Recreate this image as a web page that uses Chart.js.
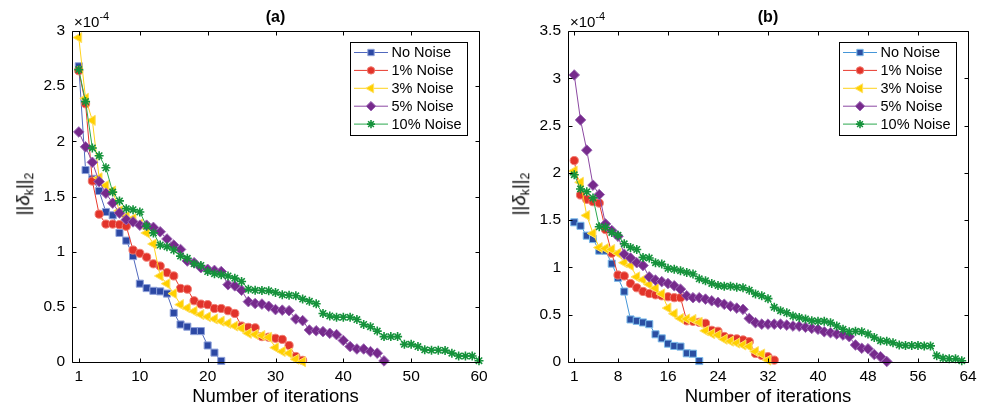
<!DOCTYPE html>
<html><head><meta charset="utf-8">
<script src="https://cdn.jsdelivr.net/npm/chart.js@4.4.0/dist/chart.umd.min.js"></script>
<style>
html,body{margin:0;padding:0;background:#fff;}
#wrap{position:relative;width:989px;height:413px;overflow:hidden;font-family:"Liberation Sans",Arial,sans-serif;color:#000;}
canvas{position:absolute;top:0;}
#ca{left:0;} #cb{left:494px;}
.ylab{position:absolute;font-size:18.5px;transform:translate(-50%,-50%) rotate(-90deg);white-space:nowrap;line-height:1;}
.ylab sub{font-size:12.5px;vertical-align:-4px;}
</style></head>
<body>
<div id="wrap">
<canvas id="ca" width="494" height="413"></canvas>
<canvas id="cb" width="495" height="413"></canvas>
<div class="ylab" style="left:25px;top:194px;">||<i>δ</i><sub>k</sub>||<sub>2</sub></div>
<div class="ylab" style="left:521px;top:194px;">||<i>δ</i><sub>k</sub>||<sub>2</sub></div>
</div>
<script>
// ---------- data (values in units of 1e-4) ----------
const seriesNames = ['No Noise', '1% Noise', '3% Noise', '5% Noise', '10% Noise'];

const aNoNoise = [2.68,1.74,1.66,1.55,1.36,1.33,1.17,1.10,0.96,0.71,0.67,0.645,0.64,0.62,0.445,0.34,0.32,0.28,0.28,0.15,0.085,0.01];
const aNoise1  = [2.64,2.34,1.64,1.34,1.25,1.25,1.245,1.23,1.015,0.985,0.95,0.89,0.87,0.81,0.78,0.667,0.66,0.555,0.525,0.52,0.485,0.485,0.465,0.44,0.326,0.314,0.31,0.23,0.225,0.215,0.205,0.15,0.05,0.015];
const aNoise3  = [2.94,2.39,2.19,1.67,1.60,1.55,1.37,1.32,1.30,1.25,1.17,1.07,0.78,0.71,0.62,0.52,0.49,0.46,0.43,0.41,0.39,0.37,0.35,0.326,0.305,0.26,0.25,0.24,0.224,0.13,0.095,0.08,0.025,0.003];
const aNoise5  = [2.085,1.95,1.81,1.635,1.53,1.44,1.35,1.29,1.27,1.24,1.24,1.22,1.18,1.115,1.06,1.02,0.915,0.90,0.855,0.84,0.83,0.82,0.70,0.69,0.65,0.547,0.53,0.525,0.505,0.475,0.47,0.465,0.39,0.375,0.29,0.283,0.275,0.26,0.248,0.195,0.14,0.118,0.118,0.094,0.08,0.01];
const aNoise10 = [2.65,2.36,1.94,1.87,1.76,1.54,1.46,1.39,1.38,1.36,1.23,1.17,1.06,1.045,1.015,0.96,0.94,0.89,0.875,0.82,0.80,0.79,0.78,0.76,0.73,0.66,0.65,0.648,0.645,0.63,0.61,0.605,0.60,0.57,0.55,0.528,0.44,0.417,0.405,0.405,0.405,0.385,0.34,0.32,0.28,0.23,0.23,0.23,0.16,0.16,0.14,0.11,0.107,0.107,0.105,0.08,0.054,0.054,0.054,0.012];

const bNoNoise = [1.477,1.44,1.336,1.30,1.177,1.177,1.04,0.89,0.745,0.45,0.435,0.418,0.40,0.293,0.25,0.194,0.17,0.163,0.092,0.088,0.01];
const bNoise1  = [2.13,1.766,1.72,1.695,1.68,1.40,1.15,0.92,0.91,0.83,0.785,0.746,0.724,0.71,0.70,0.69,0.68,0.68,0.435,0.43,0.42,0.41,0.335,0.325,0.27,0.25,0.245,0.233,0.215,0.09,0.07,0.056,0.02];
const bNoise3  = [2.02,1.90,1.55,1.36,1.21,1.20,1.19,1.15,1.05,1.02,0.90,0.87,0.82,0.78,0.72,0.57,0.51,0.46,0.455,0.45,0.42,0.33,0.30,0.285,0.24,0.22,0.20,0.18,0.165,0.11,0.085,0.02];
const bNoise5  = [3.035,2.56,2.24,1.87,1.77,1.46,1.39,1.33,1.14,1.10,1.05,1.02,0.90,0.866,0.85,0.83,0.806,0.77,0.70,0.68,0.68,0.665,0.647,0.63,0.61,0.59,0.57,0.557,0.46,0.416,0.40,0.40,0.40,0.40,0.39,0.38,0.378,0.367,0.356,0.346,0.32,0.31,0.296,0.285,0.268,0.18,0.145,0.14,0.08,0.056,0.005];
const bNoise10 = [1.98,1.83,1.80,1.735,1.43,1.425,1.37,1.34,1.25,1.21,1.19,1.106,1.10,1.05,1.035,0.99,0.98,0.965,0.947,0.93,0.88,0.86,0.83,0.81,0.80,0.80,0.79,0.785,0.76,0.72,0.70,0.67,0.578,0.543,0.52,0.486,0.47,0.455,0.437,0.43,0.43,0.416,0.38,0.346,0.32,0.325,0.32,0.296,0.26,0.225,0.22,0.204,0.18,0.175,0.175,0.175,0.17,0.17,0.067,0.04,0.035,0.035,0.014];

const xTicksA = [1, 10, 20, 30, 40, 50, 60];
const xTicksB = [1, 8, 16, 24, 32, 40, 48, 56, 64];
const yTicksA = [0, 0.5, 1, 1.5, 2, 2.5, 3];
const yTicksB = [0, 0.5, 1, 1.5, 2, 2.5, 3, 3.5];

// ---------- styles ----------
const FONT = '"Liberation Sans", Arial, Helvetica, sans-serif';
const stylesA = [
  {line:'#5068bd', fill:'#2c48a4', edge:'#8fa2da', ps:'rect', r:5, rot:0},
  {line:'#e8392c', fill:'#e2332a', edge:'#f07b70', ps:'circle', r:4.1, rot:0},
  {line:'#ffd21c', fill:'#ffd000', edge:'#ffe066', ps:'triangle', r:5.8, rot:-90},
  {line:'#8c48a2', fill:'#762a8c', edge:'#9c68b4', ps:'rectRot', r:5.3, rot:0},
  {line:'#2aa84e', fill:'#15923b', edge:'#15923b', ps:'star', r:4.5, rot:0}
];
const stylesB = stylesA.map((s, k) => k === 0 ? {line:'#4596d8', fill:'#2b4fa2', edge:'#7cbbea', ps:'rect', r:5, rot:0} : s);

function buildDatasets(series, styles) {
  return series.map((vals, k) => ({
    label: seriesNames[k],
    data: vals.map((v, i) => ({x: i + 1, y: v})),
    borderColor: styles[k].line,
    borderWidth: 1,
    pointStyle: styles[k].ps,
    pointRadius: styles[k].r,
    pointHoverRadius: styles[k].r,
    pointRotation: styles[k].rot,
    pointBackgroundColor: styles[k].fill,
    pointBorderColor: styles[k].edge,
    pointBorderWidth: styles[k].ps === 'star' ? 1.6 : 1,
    tension: 0,
    fill: false,
    clip: false,
    order: 4 - k
  }));
}

function drawMarker(ctx, ds, x, y, scale) {
  ctx.fillStyle = ds.pointBackgroundColor;
  ctx.strokeStyle = ds.pointBorderColor;
  ctx.lineWidth = ds.pointBorderWidth;
  Chart.helpers.drawPoint(ctx, {pointStyle: ds.pointStyle, rotation: ds.pointRotation, radius: ds.pointRadius * scale, borderWidth: ds.pointBorderWidth}, x, y);
}

const framePlugin = {
  id: 'framePlugin',
  afterDraw(chart, args, opts) {
    const {ctx, chartArea: a} = chart;
    const xs = chart.scales.x, ys = chart.scales.y;
    ctx.save();
    const L = Math.round(a.left) + 0.5, R = Math.round(a.right) + 0.5, T = Math.round(a.top) + 0.5, B = Math.round(a.bottom) + 0.5;
    ctx.strokeStyle = '#000'; ctx.lineWidth = 1;
    ctx.beginPath();
    ctx.rect(L, T, R - L, B - T);
    const tl = 4;
    xs.ticks.forEach(t => {
      const px = Math.round(xs.getPixelForValue(t.value)) + 0.5;
      ctx.moveTo(px, B); ctx.lineTo(px, B - tl);
      ctx.moveTo(px, T); ctx.lineTo(px, T + tl);
    });
    ys.ticks.forEach(t => {
      const py = Math.round(ys.getPixelForValue(t.value)) + 0.5;
      ctx.moveTo(L, py); ctx.lineTo(L + tl, py);
      ctx.moveTo(R, py); ctx.lineTo(R - tl, py);
    });
    ctx.stroke();

    // panel title
    ctx.fillStyle = '#000';
    ctx.font = 'bold 16px ' + FONT;
    ctx.textAlign = 'center'; ctx.textBaseline = 'middle';
    ctx.fillText(opts.title, (a.left + a.right) / 2, 18);

    // exponent multiplier
    ctx.textAlign = 'left'; ctx.textBaseline = 'alphabetic';
    ctx.font = '15px ' + FONT;
    ctx.fillText('×10', a.left + 2, 27);
    const w = ctx.measureText('×10').width;
    ctx.font = '11px ' + FONT;
    ctx.fillText('-4', a.left + 2 + w, 20);

    // legend
    const bw = 117, bh = 93;
    const bx = Math.round(a.right) - 129, by = Math.round(a.top) + 11;
    ctx.fillStyle = '#fff';
    ctx.fillRect(bx, by, bw, bh);
    ctx.strokeStyle = '#000'; ctx.lineWidth = 1;
    ctx.strokeRect(bx + 0.5, by + 0.5, bw, bh);
    chart.data.datasets.forEach((ds, k) => {
      const yy = by + 10.5 + k * 17.9;
      ctx.strokeStyle = ds.borderColor; ctx.lineWidth = 1;
      ctx.beginPath(); ctx.moveTo(bx + 4, yy); ctx.lineTo(bx + 38, yy); ctx.stroke();
      drawMarker(ctx, ds, bx + 21, yy, 0.9);
      ctx.fillStyle = '#000';
      ctx.font = '14.5px ' + FONT;
      ctx.textAlign = 'left'; ctx.textBaseline = 'middle';
      ctx.fillText(ds.label, bx + 41.5, yy + 0.5);
    });
    ctx.restore();
  }
};

function makeChart(id, series, styles, xmax, xTicks, ymax, yTicks, title, padRight, yWidth) {
  return new Chart(document.getElementById(id), {
    type: 'line',
    data: {datasets: buildDatasets(series, styles)},
    plugins: [framePlugin],
    options: {
      responsive: false,
      animation: false,
      events: [],
      layout: {padding: {left: 0, right: padRight, top: 31, bottom: 0}},
      plugins: {legend: {display: false}, tooltip: {enabled: false}, title: {display: false}, framePlugin: {title: title}},
      scales: {
        x: {
          type: 'linear', min: 0, max: xmax,
          afterBuildTicks: s => { s.ticks = xTicks.map(v => ({value: v})); },
          afterFit: s => { s.height = 51; },
          ticks: {font: {family: FONT, size: 15.5}, color: '#000', padding: 5, maxRotation: 0, autoSkip: false, callback: v => String(v)},
          grid: {display: false, drawTicks: false},
          border: {display: false},
          title: {display: true, text: 'Number of iterations', font: {family: FONT, size: 18.5}, color: '#000', padding: {top: 0, bottom: 5}}
        },
        y: {
          type: 'linear', min: 0, max: ymax,
          afterBuildTicks: s => { s.ticks = yTicks.map(v => ({value: v})); },
          afterFit: s => { s.width = yWidth; },
          ticks: {font: {family: FONT, size: 15.5}, color: '#000', padding: 7, autoSkip: false, callback: v => String(v)},
          grid: {display: false, drawTicks: false},
          border: {display: false}
        }
      }
    }
  });
}

makeChart('ca', [aNoNoise, aNoise1, aNoise3, aNoise5, aNoise10], stylesA, 60, xTicksA, 3, yTicksA, '(a)', 15, 72);
makeChart('cb', [bNoNoise, bNoise1, bNoise3, bNoise5, bNoise10], stylesB, 64, xTicksB, 3.5, yTicksB, '(b)', 21, 74);
</script>
</body></html>
